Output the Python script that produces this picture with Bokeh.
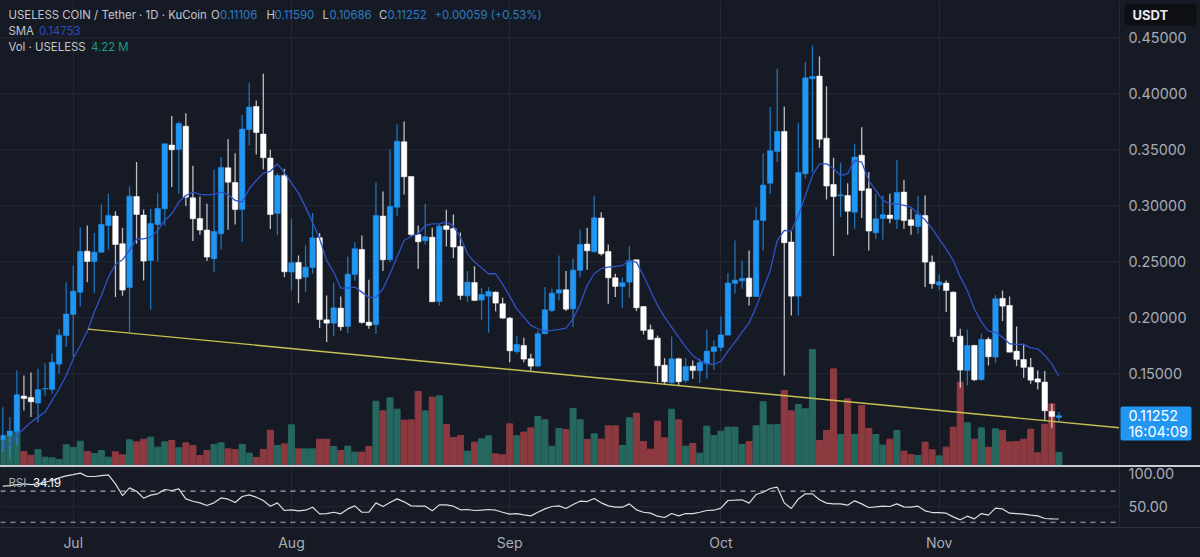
from bokeh.embed import file_html
from bokeh.resources import INLINE
from bokeh.plotting import figure
from bokeh.layouts import column
from bokeh.models import (ColumnDataSource, FixedTicker, Label, Range1d, Spacer, BoxAnnotation,
                          GlobalInlineStyleSheet, NumeralTickFormatter)

open_ = [.0914,.0949,.0985,.1301,.1289,.1238,.1363,.1360,.1586,.1842,.2030,.2229,.2595,.2503,.2586,.2824,.2908,.2661,.2271,.3083,
.2917,.2512,.2833,.2973,.3542,.3503,.3711,.3071,.2887,.2783,.2527,.2750,.3339,.3208,.2967,.3682,.3887,.3640,.3426,.2932,
.3271,.2408,.2494,.2363,.2449,.2714,.1982,.1952,.2086,.1923,.2387,.2610,.1961,.1938,.2908,.2518,.2988,.3571,.3262,.2744,
.2688,.2720,.2146,.2821,.2798,.2637,.2196,.2315,.2158,.2193,.2229,.2125,.1997,.1699,.1753,.1634,.1568,.1857,.2065,.2220,
.2250,.2080,.2423,.2658,.2589,.2890,.2592,.2357,.2280,.2318,.2518,.2101,.1893,.1818,.1577,.1420,.1634,.1440,.1568,.1527,
.1589,.1699,.1735,.1845,.2307,.2330,.2354,.2190,.2869,.3202,.3485,.3664,.2676,.2193,.3286,.4134,.4158,.3604,.3190,.3089,
.3092,.2943,.3452,.3152,.2759,.2887,.2917,.2878,.3122,.2875,.2815,.2914,.2497,.2292,.2310,.2229,.1836,.1530,.1753,.1449,
.1807,.1649,.2173,.2110,.1702,.1628,.1557,.1455,.1426,.1164,.11106]
high = [.1202,.1113,.1530,.1485,.1512,.1545,.1595,.1679,.1899,.2318,.2464,.2810,.2824,.2756,.3012,.3107,.2952,.2804,.3173,.3390,
.2967,.2973,.3116,.3554,.3801,.3753,.3827,.3357,.3083,.3018,.3321,.3435,.3595,.3470,.3810,.4098,.3940,.4179,.3500,.3292,
.3330,.2884,.2557,.2646,.2935,.2756,.2199,.2313,.2190,.2548,.2676,.2735,.2339,.3211,.3128,.3503,.3726,.3753,.3262,.2824,
.3018,.2804,.2839,.2964,.2923,.2762,.2417,.2461,.2268,.2274,.2235,.2179,.2006,.1839,.1821,.1679,.1887,.2274,.2259,.2557,
.2417,.2527,.2786,.2804,.3092,.2943,.2655,.2393,.2357,.2640,.2518,.2101,.1940,.1842,.1640,.1833,.1643,.1640,.1619,.1634,
.1893,.1798,.2012,.2399,.2690,.2512,.2601,.2988,.3470,.3881,.4223,.3887,.2780,.3741,.4283,.4432,.4333,.4068,.3429,.3384,
.3202,.3554,.3702,.3301,.3107,.3092,.3107,.3411,.3232,.2973,.3086,.3092,.2557,.2387,.2333,.2235,.1902,.1893,.1759,.1857,
.1827,.2205,.2244,.2190,.1923,.1768,.1640,.1530,.1524,.1232,.11590]
low = [.0801,.0741,.0860,.1173,.1113,.1068,.1307,.1321,.1500,.1738,.1649,.2101,.2318,.2220,.2586,.2607,.2185,.2196,.1872,.2661,
.2333,.2071,.2503,.2824,.3167,.3107,.2997,.2685,.2741,.2506,.2408,.2607,.2786,.2833,.2676,.3539,.3458,.3327,.2792,.2738,
.2363,.2244,.2131,.2229,.2393,.1908,.1783,.1836,.1887,.1863,.2333,.1946,.1902,.1857,.2417,.2497,.2908,.3101,.2726,.2438,
.2655,.2140,.2110,.2637,.2533,.2161,.2140,.2149,.1982,.1866,.2057,.1991,.1604,.1679,.1604,.1530,.1565,.1857,.2051,.2155,
.2060,.1917,.2363,.2429,.2583,.2557,.2125,.2185,.2089,.2179,.2060,.1851,.1804,.1426,.1411,.1411,.1396,.1417,.1455,.1417,
.1455,.1536,.1702,.1845,.2214,.2259,.2110,.2185,.2601,.3107,.3390,.1485,.2021,.2021,.3241,.3301,.3518,.3057,.2551,.2899,
.2741,.2795,.2890,.2601,.2705,.2699,.2845,.2795,.2795,.2741,.2750,.2274,.2259,.2250,.2051,.1783,.1375,.1396,.1435,.1435,
.1574,.1598,.1970,.1693,.1568,.1464,.1411,.1360,.1083,.1018,.10686]
close = [.0949,.0988,.1313,.1280,.1250,.1360,.1369,.1604,.1845,.2033,.2238,.2592,.2503,.2586,.2833,.2914,.2655,.2247,.3086,.2923,
.2506,.2842,.2976,.3554,.3500,.3735,.3077,.2884,.2783,.2542,.2771,.3342,.3211,.2967,.3685,.3881,.3655,.3429,.2923,.3271,
.2411,.2491,.2348,.2452,.2714,.1985,.1952,.2089,.1920,.2390,.2616,.1958,.1932,.2914,.2518,.2994,.3577,.3259,.2744,.2679,
.2723,.2143,.2818,.2789,.2631,.2199,.2318,.2155,.2208,.2235,.2131,.1997,.1705,.1762,.1631,.1568,.1857,.2071,.2220,.2250,
.2077,.2426,.2655,.2598,.2893,.2571,.2357,.2280,.2313,.2512,.2089,.1887,.1807,.1571,.1429,.1634,.1429,.1565,.1530,.1601,
.1702,.1741,.1848,.2310,.2336,.2351,.2190,.2869,.3185,.3491,.3664,.2670,.2193,.3298,.4143,.4155,.3595,.3176,.3083,.3098,
.2952,.3435,.3137,.2774,.2884,.2920,.2887,.3119,.2869,.2824,.2923,.2497,.2304,.2321,.2244,.1833,.1533,.1753,.1446,.1807,
.1652,.2170,.2104,.1693,.1628,.1557,.1443,.1426,.1170,.1119,.11252]
sma = [.0830,.0875,.0949,.1009,.1068,.1113,.1158,.1262,.1366,.1485,.1634,.1753,.1881,.2051,.2199,.2363,.2476,.2518,.2601,.2705,
.2705,.2720,.2780,.2869,.2929,.3033,.3092,.3122,.3101,.3098,.3101,.3122,.3101,.3048,.3033,.3152,.3226,.3292,.3307,.3375,
.3295,.3202,.3113,.2988,.2854,.2705,.2512,.2408,.2265,.2265,.2274,.2229,.2182,.2185,.2259,.2393,.2542,.2690,.2726,.2750,
.2824,.2839,.2839,.2857,.2818,.2720,.2571,.2497,.2446,.2393,.2393,.2298,.2193,.2080,.2006,.1932,.1902,.1881,.1887,.1896,
.1908,.1991,.2120,.2289,.2393,.2438,.2452,.2458,.2467,.2512,.2497,.2378,.2244,.2110,.2006,.1917,.1827,.1738,.1664,.1619,
.1589,.1583,.1610,.1702,.1783,.1872,.1955,.2095,.2259,.2423,.2690,.2780,.2774,.2914,.3092,.3271,.3375,.3375,.3330,.3271,
.3286,.3405,.3390,.3226,.3137,.3048,.3018,.3018,.3003,.2988,.2929,.2875,.2795,.2705,.2616,.2512,.2363,.2244,.2080,.1961,
.1881,.1872,.1827,.1768,.1762,.1762,.1732,.1723,.1664,.1589,.14753]
volume_m = [8.3,9.3,10.3,4.5,3.4,5.1,2.8,2.6,2.1,6.5,5.7,7.6,4.5,3.9,4.8,2.8,4.4,3.5,8.0,7.4,
8.2,8.8,5.8,7.4,7.8,5.6,7.1,6.3,3.3,4.8,6.6,7.1,5.3,5.1,6.6,4.0,2.7,5.1,10.9,6.3,
6.8,12.5,5.3,5.3,5.3,8.2,8.2,6.0,4.8,6.1,4.3,4.3,6.0,19.6,16.7,20.6,17.2,13.9,14.0,22.5,
16.7,20.8,21.2,12.6,8.7,9.3,4.6,7.3,8.3,9.2,3.8,3.5,12.8,9.2,10.3,11.6,15.0,14.0,6.1,11.4,
11.1,17.4,14.0,8.1,9.8,8.2,12.2,12.2,6.3,14.6,16.0,7.5,5.2,13.6,8.6,17.2,14.0,6.1,6.9,4.0,
12.1,9.3,10.6,11.8,11.8,6.6,7.5,12.2,19.4,12.5,12.6,22.8,16.7,18.6,17.3,35.1,7.8,10.8,29.3,9.6,
20.3,9.6,18.3,11.4,9.6,6.4,8.2,10.8,4.6,3.6,3.3,7.3,5.0,3.2,5.8,11.8,25.3,13.1,8.2,11.6,
5.8,11.3,10.8,7.4,7.5,8.2,11.2,4.1,12.7,18.8,4.22]
rsi = [76.5,77.3,78.6,79.5,78.6,79.5,81.6,83.8,87.2,89.8,91.5,93.3,89.0,89.0,90.2,91.1,79.5,64.4,74.3,70.0,
61.0,64.9,66.6,72.2,70.9,73.0,60.1,57.1,55.0,51.5,55.0,61.4,59.7,55.4,63.2,65.3,62.3,58.0,50.7,55.0,
45.1,46.0,44.7,45.5,49.4,40.8,41.2,42.9,40.8,47.2,51.1,42.9,42.9,55.0,50.3,55.4,60.1,56.3,51.1,50.7,
50.7,44.7,52.4,52.4,50.7,46.0,46.4,45.1,45.5,46.4,45.5,42.9,40.4,41.2,39.5,38.2,42.9,47.2,50.3,51.1,
47.7,52.8,57.1,56.7,60.6,55.0,51.1,49.4,49.4,53.7,46.0,42.9,41.7,37.8,36.1,41.2,38.2,41.2,41.2,42.9,
45.1,45.5,48.1,58.0,58.4,58.9,54.6,65.7,68.7,73.5,75.2,55.0,47.7,60.1,66.6,66.6,58.9,54.6,53.7,53.7,
52.0,57.6,53.7,49.0,49.8,50.7,50.3,53.7,49.8,49.4,50.7,44.7,42.5,42.5,41.7,36.9,33.1,37.8,34.3,41.2,
39.1,48.1,47.2,41.7,41.2,40.4,39.1,38.2,34.8,34.3,34.19]
trend_days = [12.1, 158.6]
trend_price = [.1899, .1018]
month_days = [10, 41, 72, 102, 133]
month_labels = ["Jul", "Aug", "Sep", "Oct", "Nov"]
price_ticks = [.15, .20, .25, .30, .35, .40, .45]
rsi_ticks = [50, 100]
rsi_bands = [70, 30]

FONT = "Inter"
BG = "#161a25"
GRID = "#242834"
AXIS_TXT = "#a9acb5"
UP = "#2196f3"
DOWN = "#ffffff"
VOL_UP = "#26675f"
VOL_DOWN = "#8c3a40"
SMA_C = "#2f52c8"
W = 1200
H1, SEP, H2 = 465, 2, 90
RSI_FRAME = 60
X0, X_AXIS, X1 = -0.327, 158.62, 170.12
TICK_PX = "14.4px"

days = list(range(len(close)))
is_up = [c >= o for o, c in zip(open_, close)]
src = ColumnDataSource(dict(
    day=days, open=open_, high=high, low=low, close=close, sma=sma, vol=volume_m, rsi=rsi,
    body_top=[max(o, c) for o, c in zip(open_, close)],
    body_bot=[min(o, c) for o, c in zip(open_, close)],
    color=[UP if u else DOWN for u in is_up],
    vcolor=[VOL_UP if u else VOL_DOWN for u in is_up],
))
xr = Range1d(X0, X1)


def style_y(fig, ticks, fmt):
    ax = fig.yaxis
    ax.fixed_location = X_AXIS
    ax.ticker = FixedTicker(ticks=ticks)
    ax.formatter = NumeralTickFormatter(format=fmt)
    ax.major_label_text_font = FONT
    ax.major_label_text_font_size = TICK_PX
    ax.major_label_text_color = AXIS_TXT
    ax.major_label_standoff = 9
    ax.major_tick_line_color = None
    ax.minor_tick_line_color = None
    ax.major_tick_out = 0
    ax.axis_line_color = GRID
    fig.ygrid.grid_line_color = None
    fig.xgrid.ticker = FixedTicker(ticks=month_days)
    fig.xgrid.grid_line_color = GRID
    fig.segment(x0=[X0] * len(ticks), x1=[X_AXIS] * len(ticks), y0=ticks, y1=ticks, line_color=GRID, line_width=1)


p = figure(width=W, height=H1, x_range=xr, y_range=Range1d(.0681, .4833), y_axis_location="right",
           x_axis_location=None, output_backend="svg", toolbar_location=None,
           min_border_left=0, min_border_right=0, min_border_top=0, min_border_bottom=0,
           background_fill_color=BG, border_fill_color=BG, outline_line_color=None)
p.extra_y_ranges = {"vol": Range1d(.3, 139.8)}
style_y(p, price_ticks, "0.00000")

p.vbar(x="day", top="vol", bottom=0, width=.86, color="vcolor", source=src, y_range_name="vol")
p.segment(x0="day", x1="day", y0="low", y1="high", line_color="color", line_width=1.3, line_alpha=.72, source=src)
p.vbar(x="day", top="body_top", bottom="body_bot", width=.78, fill_color="color", line_color="color",
       line_width=.5, source=src)
p.line(x="day", y="sma", line_color=SMA_C, line_width=1.3, source=src)
p.line(x=trend_days, y=trend_price, line_color="#c8c052", line_width=1.4)


def txt(fig, top, h, x, y, s, color="#c3c6ce", size="11.4px", **kw):
    fig.add_layout(Label(x=x, y=h - (y - top), x_units="screen", y_units="screen", text=s, text_color=color,
                         text_font=FONT, text_font_size=size, text_baseline="middle", **kw))


def box(fig, h, x0, x1, y0, y1, color, radius):
    fig.add_layout(BoxAnnotation(left=x0, right=x1, top=h - y0, bottom=h - y1, left_units="screen", right_units="screen",
                                 top_units="screen", bottom_units="screen", fill_color=color, fill_alpha=1,
                                 line_color=None, border_radius=radius))


HB = "#2a7dc4"
HG = "#c3c6ce"
for x, y, s, c in [(8, 14, "USELESS COIN / Tether · 1D · KuCoin", HG), (210.5, 14, "O", HG), (219.5, 14, "0.11106", HB),
                   (266, 14, "H", HG), (274, 14, "0.11590", HB), (322, 14, "L", HG), (329, 14, "0.10686", HB),
                   (378.5, 14, "C", HG), (387, 14, "0.11252", HB), (434, 14, "+0.00059 (+0.53%)", HB),
                   (8, 30, "SMA", HG), (38.5, 30, "0.14753", "#2b4cc0"),
                   (8, 46, "Vol · USELESS", HG), (90.5, 46, "4.22 M", "#1f9a86")]:
    txt(p, 0, H1, x, y, s, c)
box(p, H1, 1124, 1196, 3, 25, "#0e0f12", 4)
txt(p, 0, H1, 1132, 14, "USDT", "#e8e8e8", "13px", text_font_style="bold")
box(p, H1, 1120, 1191, 406, 440, UP, 2)
txt(p, 0, H1, 1128, 415, "0.11252", "#ffffff", "14.4px")
txt(p, 0, H1, 1128, 431, "16:04:09", "#ffffff", "14.4px")

sep = Spacer(width=W, height=SEP, styles={"background-color": "#c9ccd4"})

r = figure(width=W, height=H2, x_range=xr, y_range=Range1d(23.2, 100.6), y_axis_location="right",
           output_backend="svg", toolbar_location=None,
           min_border_left=0, min_border_right=0, min_border_top=0, min_border_bottom=30,
           background_fill_color=BG, border_fill_color=BG, outline_line_color=None)
style_y(r, rsi_ticks, "0.00")
r.xaxis.ticker = FixedTicker(ticks=month_days)
r.xaxis.major_label_overrides = dict(zip(month_days, month_labels))
r.xaxis.major_label_text_font = FONT
r.xaxis.major_label_text_font_size = "14px"
r.xaxis.major_label_text_color = AXIS_TXT
r.xaxis.major_label_standoff = 6
r.xaxis.major_tick_out = 0
r.xaxis.major_tick_line_color = None
r.xaxis.minor_tick_line_color = None
r.xaxis.axis_line_color = "#2c303b"
r.segment(x0=[X0] * len(rsi_bands), x1=[X_AXIS] * len(rsi_bands), y0=rsi_bands, y1=rsi_bands,
          line_color="#a9acb5", line_width=1.2, line_dash="5 5")
r.line(x="day", y="rsi", line_color="#dcdde0", line_width=1.2, source=src)
txt(r, 467, RSI_FRAME, 8, 482, "RSI", "#a9acb5")
txt(r, 467, RSI_FRAME, 32.5, 482, "34.19", "#ffffff")

page = column(p, sep, r, spacing=0,
              stylesheets=[GlobalInlineStyleSheet(css="html,body{background:#161a25;overflow:hidden}")])
open("out.html", "w").write(file_html(page, INLINE))
